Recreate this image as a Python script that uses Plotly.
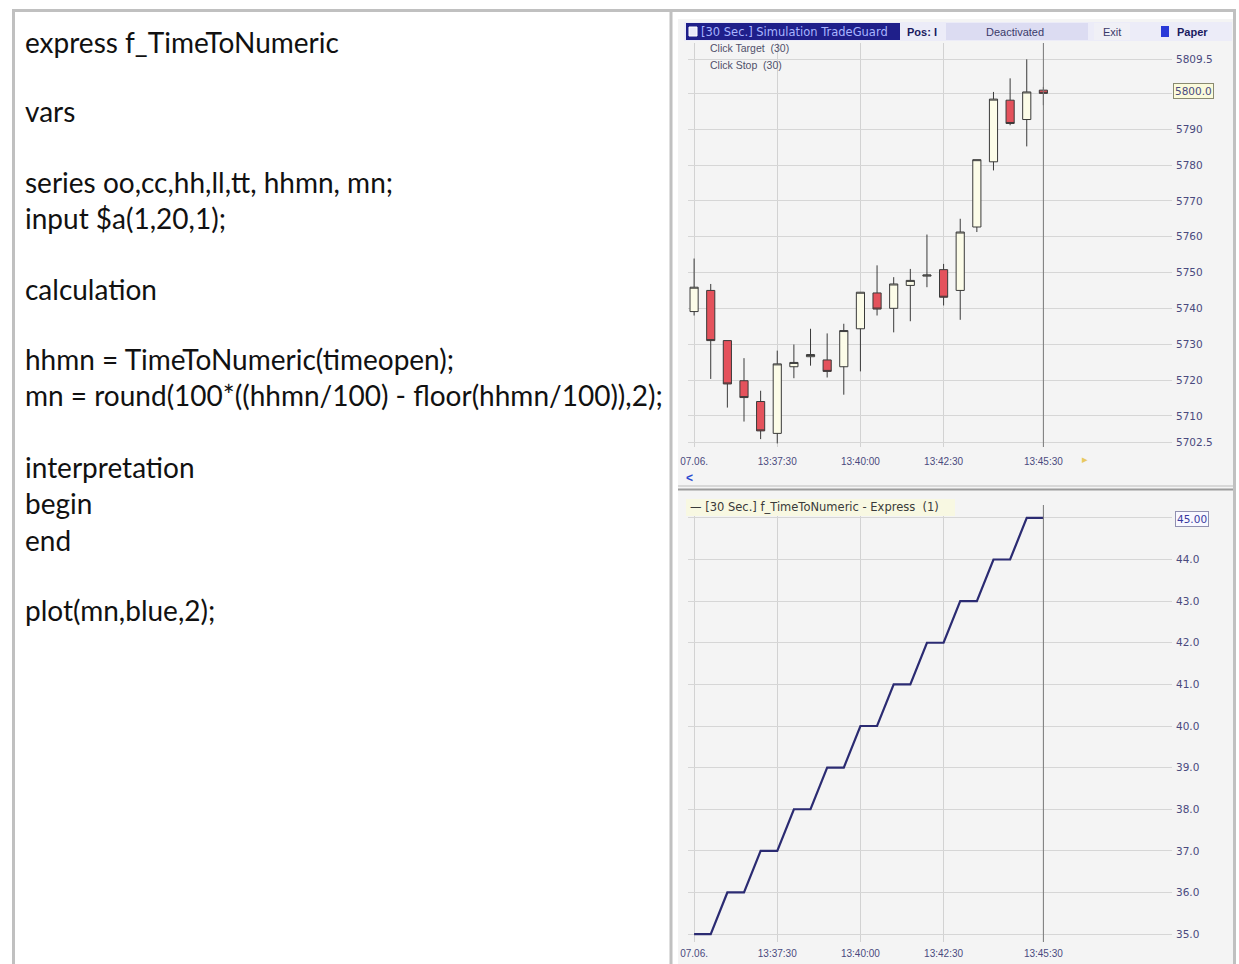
import plotly.graph_objects as go

# ---------------- data ----------------
times = ["13:35:00", "13:35:30", "13:36:00", "13:36:30", "13:37:00", "13:37:30",
         "13:38:00", "13:38:30", "13:39:00", "13:39:30", "13:40:00", "13:40:30",
         "13:41:00", "13:41:30", "13:42:00", "13:42:30", "13:43:00", "13:43:30",
         "13:44:00", "13:44:30", "13:45:00", "13:45:30"]
opens  = [5739.1, 5745.0, 5731.0, 5719.8, 5714.0, 5705.1, 5723.7, 5726.5, 5725.6, 5723.7, 5734.3,
          5744.3, 5740.0, 5746.4, 5749.0, 5750.8, 5745.0, 5762.7, 5780.9, 5798.1, 5792.7, 5800.9]
highs  = [5753.9, 5746.8, 5731.0, 5726.1, 5717.0, 5728.2, 5729.9, 5734.3, 5733.0, 5735.7, 5744.5,
          5752.0, 5748.7, 5751.0, 5760.6, 5752.4, 5765.0, 5781.5, 5800.4, 5804.2, 5809.5, 5801.8]
lows   = [5738.0, 5720.3, 5712.3, 5708.4, 5703.5, 5702.3, 5720.5, 5724.0, 5720.7, 5715.9, 5722.4,
          5738.0, 5733.3, 5736.4, 5745.9, 5740.8, 5736.8, 5761.3, 5778.5, 5791.1, 5785.2, 5796.7]
closes = [5745.9, 5731.0, 5718.9, 5715.1, 5705.8, 5724.5, 5724.9, 5727.1, 5722.4, 5733.8, 5744.5,
          5739.8, 5746.8, 5747.8, 5749.3, 5743.1, 5761.3, 5781.5, 5798.4, 5791.6, 5800.4, 5800.0]
mn = [35, 35, 36, 36, 37, 37, 38, 38, 39, 39, 40, 40, 41, 41, 42, 42, 43, 43, 44, 44, 45, 45]

date = "2011-06-07 "
x_tick_times = ["13:35:00", "13:37:30", "13:40:00", "13:42:30", "13:45:30"]
x_tick_text = ["07.06.", "13:37:30", "13:40:00", "13:42:30", "13:45:30"]
price_ticks = [5702.5, 5710, 5720, 5730, 5740, 5750, 5760, 5770, 5780, 5790, 5800, 5809.5]
price_text = ["5702.5", "5710", "5720", "5730", "5740", "5750", "5760", "5770", "5780", "5790", "", "5809.5"]
mn_ticks = [35, 36, 37, 38, 39, 40, 41, 42, 43, 44, 45]
mn_text = ["35.0", "36.0", "37.0", "38.0", "39.0", "40.0", "41.0", "42.0", "43.0", "44.0", ""]

code_lines = ["express f_TimeToNumeric", "vars", "series oo,cc,hh,ll,tt, hhmn, mn;",
              "input $a(1,20,1);", "calculation", "hhmn = TimeToNumeric(timeopen);",
              "mn = round(100*((hhmn/100) - floor(hhmn/100)),2);", "interpretation",
              "begin", "end", "plot(mn,blue,2);"]
code_y = [42, 111, 182, 218, 289, 359, 395, 467, 503, 540, 610]

# ---------------- helpers ----------------
W, H = 1239, 964
def X(px):
    return px / W
def Y(py):
    return 1 - py / H

xs = [date + t for t in times]
AX = "#4a4a7e"
FONT = "Liberation Sans"
YFONT = "DejaVu Sans"

fig = go.Figure()
fig.add_trace(go.Candlestick(
    x=xs, open=opens, high=highs, low=lows, close=closes,
    increasing=dict(fillcolor="#fcfce8", line=dict(color="#3a3a3a", width=1)),
    decreasing=dict(fillcolor="#e4525c", line=dict(color="#3a3a3a", width=1)),
    xaxis="x", yaxis="y", showlegend=False))
fig.add_trace(go.Scatter(
    x=xs, y=mn, mode="lines", line=dict(color="#2b2b72", width=2.2),
    xaxis="x2", yaxis="y2", showlegend=False))

xrange = [date + "13:34:49", date + "13:49:22"]
xcommon = dict(type="date", range=xrange, tickvals=[date + t for t in x_tick_times],
               ticktext=x_tick_text, showgrid=True, gridcolor="#d2d2d2", gridwidth=1,
               zeroline=False, showline=False, ticks="", automargin=False,
               tickfont=dict(family=FONT, size=10, color=AX))
ycommon = dict(side="right", showgrid=True, gridcolor="#d6d6d6", gridwidth=1, zeroline=False,
               showline=False, ticks="", automargin=False, ticklabelstandoff=3,
               tickfont=dict(family=YFONT, size=10.5, color=AX))

fig.update_layout(
    width=W, height=H, margin=dict(l=0, r=0, t=0, b=0, autoexpand=False),
    paper_bgcolor="white", plot_bgcolor="#efefef",
    xaxis=dict(domain=[X(688), X(1172)], anchor="y", rangeslider=dict(visible=False),
               ticklabelstandoff=7, **xcommon),
    yaxis=dict(domain=[Y(447), Y(43)], range=[5701.3, 5814.06], tickvals=price_ticks,
               ticktext=price_text, **ycommon),
    xaxis2=dict(domain=[X(688), X(1172)], anchor="y2", ticklabelstandoff=4, **xcommon),
    yaxis2=dict(domain=[Y(942), Y(505)], range=[34.81, 45.31], tickvals=mn_ticks,
                ticktext=mn_text, **ycommon),
)

shapes = []
# chart screenshot background
shapes.append(dict(type="rect", xref="paper", yref="paper", x0=X(678), x1=X(1233), y0=Y(964), y1=Y(19),
                   fillcolor="#f4f4f4", line=dict(width=0), layer="below"))
# outer frame and divider
shapes.append(dict(type="rect", xref="paper", yref="paper", x0=X(13.5), x1=X(1234.5), y0=Y(980), y1=Y(10.5),
                   fillcolor="rgba(0,0,0,0)", line=dict(color="#c0c0c0", width=3)))
shapes.append(dict(type="line", xref="paper", yref="paper", x0=X(671), x1=X(671), y0=Y(980), y1=Y(10.5),
                   line=dict(color="#c0c0c0", width=3)))
# header band
shapes.append(dict(type="rect", xref="paper", yref="paper", x0=X(684), x1=X(1232), y0=Y(41), y1=Y(22),
                   fillcolor="#ececf8", line=dict(width=0)))
shapes.append(dict(type="rect", xref="paper", yref="paper", x0=X(686), x1=X(900), y0=Y(40), y1=Y(23),
                   fillcolor="#1f1f8a", line=dict(width=0)))
shapes.append(dict(type="rect", xref="paper", yref="paper", x0=X(689), x1=X(697), y0=Y(36), y1=Y(27),
                   fillcolor="#e8e8f8", line=dict(color="#ffffff", width=1)))
shapes.append(dict(type="rect", xref="paper", yref="paper", x0=X(946), x1=X(1088), y0=Y(40), y1=Y(23),
                   fillcolor="#dcdcf2", line=dict(width=0)))
shapes.append(dict(type="rect", xref="paper", yref="paper", x0=X(1094), x1=X(1130), y0=Y(40), y1=Y(23),
                   fillcolor="#f0f0f6", line=dict(width=0)))
shapes.append(dict(type="rect", xref="paper", yref="paper", x0=X(1161), x1=X(1169), y0=Y(37), y1=Y(26),
                   fillcolor="#2a3ad8", line=dict(width=0)))
# splitter between the panels
shapes.append(dict(type="line", xref="paper", yref="paper", x0=X(678), x1=X(1233), y0=Y(486), y1=Y(486),
                   line=dict(color="#d8d8d8", width=2)))
shapes.append(dict(type="line", xref="paper", yref="paper", x0=X(678), x1=X(1233), y0=Y(489.5), y1=Y(489.5),
                   line=dict(color="#9c9c9c", width=2)))
# legend box of lower panel
shapes.append(dict(type="rect", xref="paper", yref="paper", x0=X(686), x1=X(955), y0=Y(516), y1=Y(499),
                   fillcolor="#f8f8e2", line=dict(width=0)))
# current-bar marker lines
for xr, yr in (("x", "y"), ("x2", "y2")):
    shapes.append(dict(type="line", xref=xr, yref=yr + " domain", x0=date + "13:45:30", x1=date + "13:45:30",
                       y0=0, y1=1, line=dict(color="#7a7a7a", width=1)))
fig.update_layout(shapes=shapes)

ann = []
for txt, yy in zip(code_lines, code_y):
    ann.append(dict(text=txt, x=X(23), y=Y(yy), xref="paper", yref="paper", xanchor="left",
                    yanchor="middle", showarrow=False, font=dict(family="Lato", size=28, color="#111111")))

def small(text, px, py, color="#44446a", size=10, anchor="left", bold=False, bg=None, border=None, family=FONT):
    d = dict(text=("<b>%s</b>" % text) if bold else text, x=X(px), y=Y(py), xref="paper", yref="paper",
             xanchor=anchor, yanchor="middle", showarrow=False,
             font=dict(family=family, size=size, color=color))
    if bg:
        d["bgcolor"] = bg
    if border:
        d["bordercolor"] = border
        d["borderwidth"] = 1
        d["borderpad"] = 1
    ann.append(d)

small("[30 Sec.] Simulation TradeGuard", 699, 32, color="#a8b4ff", size=11.5, family=YFONT)
small("Pos: I", 905, 32, color="#1a1a60", bold=True, size=11)
small("Deactivated", 1015, 32, color="#3a3a6a", anchor="center", size=11)
small("Exit", 1112, 32, color="#3a3a6a", anchor="center", size=11)
small("Paper", 1175, 32, color="#1a1a60", bold=True, size=11)
small("Click Target  (30)", 708, 48, color="#50506a", size=10.5)
small("Click Stop  (30)", 708, 65, color="#50506a", size=10.5)
small("5800.0", 1173, 91, color="#4a4a7e", bg="#fbfbdc", border="#8a8a70", size=10.5, family=YFONT)
small("45.00", 1175, 519, color="#3a3aa0", bg="#f8f8ff", border="#9090b0", size=10.5, family=YFONT)
small("<", 684, 478, color="#2a4ad0", size=12, bold=True)
small("▸", 1080, 459, color="#e8c860", size=11)
small("— [30 Sec.] f_TimeToNumeric - Express  (1)", 688, 507, color="#3a3a3a", size=11.5, family=YFONT)
fig.update_layout(annotations=ann)

fig.write_html("out.html", post_script="document.body.style.margin='0';",
               config={"displayModeBar": False})
